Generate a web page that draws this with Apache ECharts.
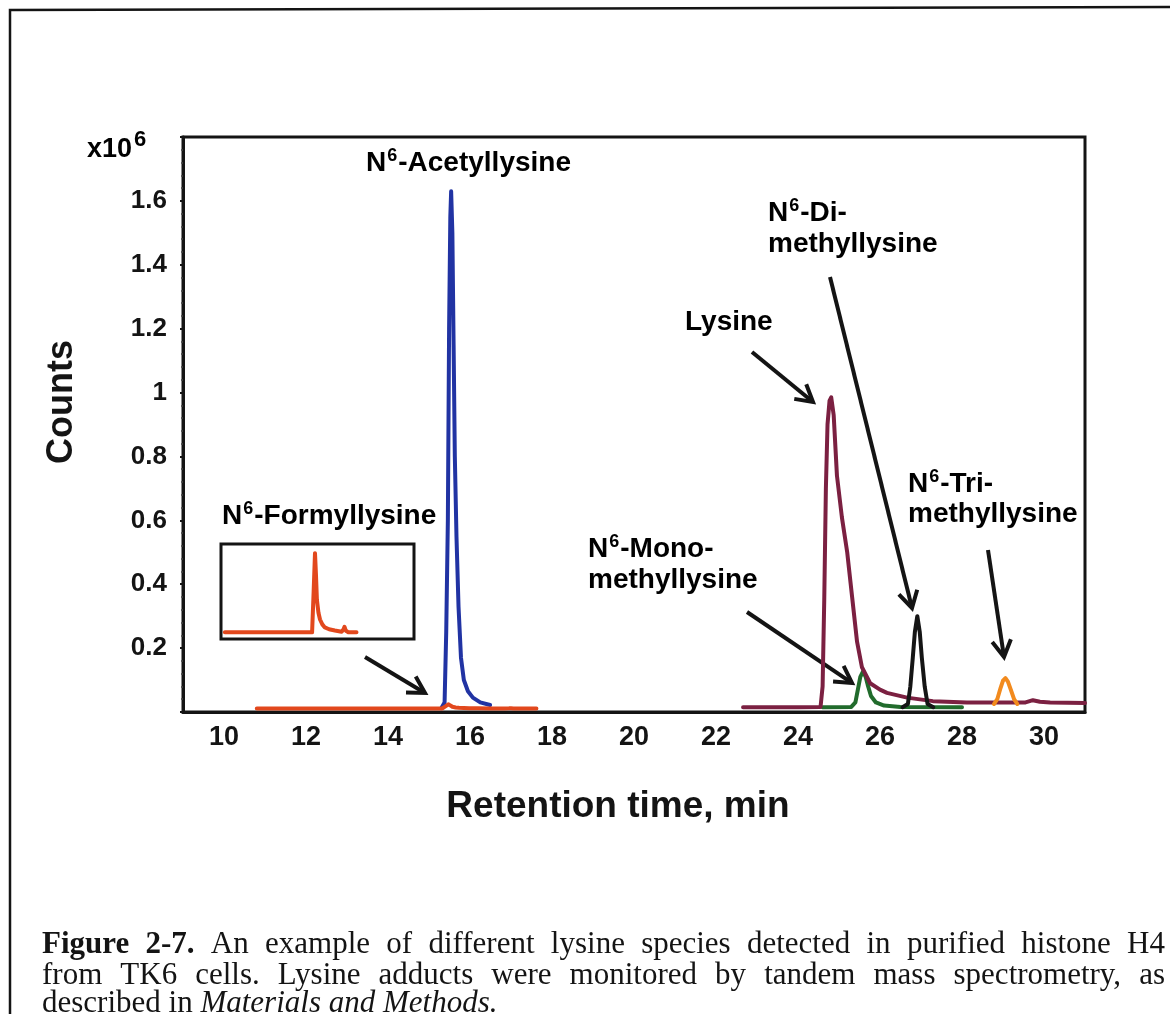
<!DOCTYPE html>
<html>
<head>
<meta charset="utf-8">
<style>
  html, body { margin: 0; padding: 0; background: #fff; }
  #main { width: 1170px; height: 1014px; }
</style>
<script src="https://cdn.jsdelivr.net/npm/echarts@6.0.0/dist/echarts.min.js"></script>
</head>
<body>
<div id="main"></div>
<script>
// retention time (min) and counts (x10^6)

// N6-Formyllysine (also shown magnified in the inset)
const formylTime = [10.8, 12.0, 13.5, 15.0, 15.32, 15.40, 15.47, 15.52, 15.57, 15.65, 15.73, 15.85, 15.98, 16.2, 16.5, 16.85, 16.95, 17.0, 17.06, 17.2, 17.62];
const formylCounts = [0.011, 0.011, 0.011, 0.011, 0.011, 0.0177, 0.024, 0.0205, 0.0163, 0.0142, 0.0131, 0.0123, 0.0118, 0.0115, 0.0113, 0.0111, 0.0115, 0.0119, 0.0113, 0.011, 0.011];

// N6-Acetyllysine
const acetylTime = [15.30, 15.38, 15.42, 15.46, 15.49, 15.52, 15.54, 15.57, 15.60, 15.63, 15.67, 15.72, 15.78, 15.85, 15.95, 16.07, 16.25, 16.49];
const acetylCounts = [0.012, 0.03, 0.25, 0.6, 1.2, 1.55, 1.63, 1.5, 1.15, 0.8, 0.55, 0.33, 0.17, 0.1, 0.065, 0.045, 0.03, 0.022];

// Lysine
const lysineTime = [22.66, 24.0, 24.55, 24.60, 24.64, 24.68, 24.72, 24.77, 24.81, 24.87, 24.95, 25.07, 25.20, 25.32, 25.44, 25.56, 25.76, 26.0, 26.17, 26.66, 27.29, 28.12, 28.93, 29.55, 29.73, 29.9, 30.15, 31.0];
const lysineCounts = [0.015, 0.015, 0.016, 0.08, 0.35, 0.7, 0.9, 0.975, 0.985, 0.93, 0.74, 0.61, 0.5, 0.36, 0.22, 0.14, 0.09, 0.07, 0.06, 0.045, 0.034, 0.03, 0.03, 0.03, 0.037, 0.032, 0.03, 0.028];

// N6-Monomethyllysine
const monoTime = [24.6, 25.3, 25.4, 25.46, 25.52, 25.59, 25.65, 25.7, 25.78, 25.9, 26.1, 26.5, 28.0];
const monoCounts = [0.015, 0.016, 0.03, 0.07, 0.11, 0.128, 0.11, 0.085, 0.05, 0.03, 0.02, 0.016, 0.015];

// N6-Dimethyllysine
const diTime = [26.55, 26.68, 26.74, 26.8, 26.85, 26.91, 26.97, 27.02, 27.09, 27.16, 27.3];
const diCounts = [0.015, 0.025, 0.08, 0.17, 0.25, 0.3, 0.25, 0.17, 0.08, 0.025, 0.015];

// N6-Trimethyllysine
const triTime = [28.78, 28.86, 28.94, 29.0, 29.06, 29.12, 29.19, 29.27, 29.35];
const triCounts = [0.025, 0.04, 0.075, 0.098, 0.106, 0.095, 0.07, 0.04, 0.025];

const xTicks = [10, 12, 14, 16, 18, 20, 22, 24, 26, 28, 30];
const yTicks = [0.2, 0.4, 0.6, 0.8, 1, 1.2, 1.4, 1.6];

const ink = '#141414';
const sans = '"Liberation Sans", Arial, sans-serif';
const serif = '"Liberation Serif", "Times New Roman", serif';

function pairs(t, c) {
    return t.map((x, i) => [x, c[i]]);
}

function trace(name, t, c, color, extra) {
    return Object.assign({
        name: name,
        type: 'line',
        data: pairs(t, c),
        symbol: 'none',
        smooth: false,
        silent: true,
        lineStyle: { color: color, width: 4, cap: 'round', join: 'round' }
    }, extra || {});
}

// rich label with a superscript 6 after the N
const richLab = {
    b: { fontFamily: sans, fontWeight: 'bold', fontSize: 28, lineHeight: 32, color: ink },
    s: { fontFamily: sans, fontWeight: 'bold', fontSize: 18, lineHeight: 21, color: ink, verticalAlign: 'top', padding: [0, 1, 0, 1] }
};
function label(x, y, text) {
    return {
        type: 'text', x: x, y: y,
        style: { text: text, rich: richLab, align: 'left', verticalAlign: 'middle', textAlign: 'left', textVerticalAlign: 'middle' }
    };
}
function arrow(x1, y1, x2, y2) {
    const a = Math.atan2(y2 - y1, x2 - x1), len = 19, spread = 0.52;
    const head = [
        [x2 - len * Math.cos(a - spread), y2 - len * Math.sin(a - spread)],
        [x2, y2],
        [x2 - len * Math.cos(a + spread), y2 - len * Math.sin(a + spread)]
    ];
    return [
        { type: 'line', shape: { x1: x1, y1: y1, x2: x2 - 2 * Math.cos(a), y2: y2 - 2 * Math.sin(a) }, style: { stroke: ink, lineWidth: 4 } },
        { type: 'polyline', shape: { points: head }, style: { stroke: ink, lineWidth: 4, fill: 'none' } }
    ];
}

// caption: justified lines, measured with a canvas
const captionLines = [
    { parts: [['Figure 2-7.', 'bold'], ['An example of different lysine species detected in purified histone H4', 'normal']], justify: true, y: 945 },
    { parts: [['from TK6 cells.  Lysine adducts were monitored by tandem mass spectrometry, as', 'normal']], justify: true, y: 976 },
    { parts: [['described in', 'normal'], ['Materials and Methods.', 'italic']], justify: false, y: 1004 }
];
const capSize = 31;
const capLeft = 42, capRight = 1165;
const measure = document.createElement('canvas').getContext('2d');
function capFont(kind) {
    const w = kind === 'bold' ? 'bold ' : '';
    const s = kind === 'italic' ? 'italic ' : '';
    return s + w + capSize + 'px ' + serif;
}
function captionElements() {
    const out = [];
    captionLines.forEach(line => {
        const words = [];
        line.parts.forEach(p => p[0].split(/\s+/).forEach(w => words.push({ t: w, f: capFont(p[1]) })));
        let total = 0;
        words.forEach(w => { measure.font = w.f; w.w = measure.measureText(w.t).width; total += w.w; });
        measure.font = capFont('normal');
        let gap = measure.measureText(' ').width;
        if (line.justify) gap = (capRight - capLeft - total) / (words.length - 1);
        let x = capLeft;
        words.forEach(w => {
            out.push({ type: 'text', x: x, y: line.y, style: { text: w.t, font: w.f, fill: ink, align: 'left', verticalAlign: 'middle', textAlign: 'left', textVerticalAlign: 'middle' } });
            x += w.w + gap;
        });
    });
    return out;
}

let chart = echarts.init(document.getElementById('main'), null, { renderer: 'canvas' });

const graphics = [
    // figure frame (top and left edges only)
    { type: 'polyline', shape: { points: [[10, 1014], [10, 10], [1170, 7]] }, style: { stroke: ink, lineWidth: 2.5, fill: 'none' } },
    // axis titles
    { type: 'text', x: 62, y: 402, rotation: Math.PI / 2, style: { text: 'Counts', font: 'bold 36px ' + sans, fill: ink, align: 'center', verticalAlign: 'middle', textAlign: 'center', textVerticalAlign: 'middle' } },
    { type: 'text', x: 618, y: 807, style: { text: 'Retention time, min', font: 'bold 37px ' + sans, fill: ink, align: 'center', verticalAlign: 'middle', textAlign: 'center', textVerticalAlign: 'middle' } },
    // multiplier
    { type: 'text', x: 87, y: 146, style: { text: '{a|x10}{s|6}', rich: {
        a: { fontFamily: sans, fontWeight: 'bold', fontSize: 27, lineHeight: 34, color: ink, verticalAlign: 'bottom' },
        s: { fontFamily: sans, fontWeight: 'bold', fontSize: 22, lineHeight: 24, color: ink, verticalAlign: 'top', padding: [0, 0, 0, 2] }
    }, align: 'left', verticalAlign: 'middle', textAlign: 'left', textVerticalAlign: 'middle' } },
    label(366, 163, '{b|N}{s|6}{b|-Acetyllysine}'),
    label(222, 516, '{b|N}{s|6}{b|-Formyllysine}'),
    label(685, 322, '{b|Lysine}'),
    label(768, 213, '{b|N}{s|6}{b|-Di-}'),
    label(768, 244, '{b|methyllysine}'),
    label(588, 549, '{b|N}{s|6}{b|-Mono-}'),
    label(588, 580, '{b|methyllysine}'),
    label(908, 484, '{b|N}{s|6}{b|-Tri-}'),
    label(908, 514, '{b|methyllysine}')
]
    .concat(arrow(365, 657, 425, 693))
    .concat(arrow(752, 352, 813, 402))
    .concat(arrow(830, 277, 912, 608))
    .concat(arrow(747, 612, 852, 683))
    .concat(arrow(988, 550, 1004, 657))
    .concat(captionElements());

const option = {
    backgroundColor: '#ffffff',
    animation: false,
    grid: [
        { left: 183, top: 137, width: 902, height: 575, show: true, borderColor: ink, borderWidth: 3, backgroundColor: 'transparent' },
        // inset with the magnified formyllysine trace
        { left: 221, top: 544, width: 193, height: 95, show: true, borderColor: ink, borderWidth: 3, backgroundColor: 'transparent' }
    ],
    xAxis: [
        {
            type: 'value', min: 9, max: 31,
            axisLine: { show: true, onZero: false, lineStyle: { color: ink, width: 3 } },
            axisTick: { show: false },
            splitLine: { show: false },
            axisLabel: {
                customValues: xTicks,
                margin: 12,
                fontFamily: sans, fontWeight: 'bold', fontSize: 27, color: ink
            }
        },
        { gridIndex: 1, type: 'value', min: 10.6, max: 20.6, show: false }
    ],
    yAxis: [
        {
            type: 'value', min: 0, max: 1.8, interval: 0.2,
            axisLine: { show: true, lineStyle: { color: ink, width: 3 } },
            axisTick: { show: true, length: 3, lineStyle: { color: ink, width: 2 } },
            minorTick: { show: true, splitNumber: 5, length: 2, lineStyle: { color: '#444', width: 1.5 } },
            splitLine: { show: false },
            axisLabel: {
                margin: 16,
                fontFamily: sans, fontWeight: 'bold', fontSize: 26, color: ink,
                formatter: function (v) {
                    const r = Math.round(v * 10) / 10;
                    return yTicks.indexOf(r) >= 0 ? String(r) : '';
                }
            }
        },
        { gridIndex: 1, type: 'value', min: 0.0099, max: 0.0255, show: false }
    ],
    series: [
        trace('N6-Monomethyllysine', monoTime, monoCounts, '#216b2c'),
        trace('Lysine', lysineTime, lysineCounts, '#7b2041'),
        trace('N6-Dimethyllysine', diTime, diCounts, '#151515'),
        trace('N6-Trimethyllysine', triTime, triCounts, '#f28a1d'),
        trace('N6-Acetyllysine', acetylTime, acetylCounts, '#2133a3'),
        trace('N6-Formyllysine', formylTime, formylCounts, '#e2481d'),
        trace('N6-Formyllysine (inset)', formylTime, formylCounts, '#e2481d', { xAxisIndex: 1, yAxisIndex: 1, clip: true })
    ],
    graphic: graphics
};

chart.setOption(option);
</script>
</body>
</html>
